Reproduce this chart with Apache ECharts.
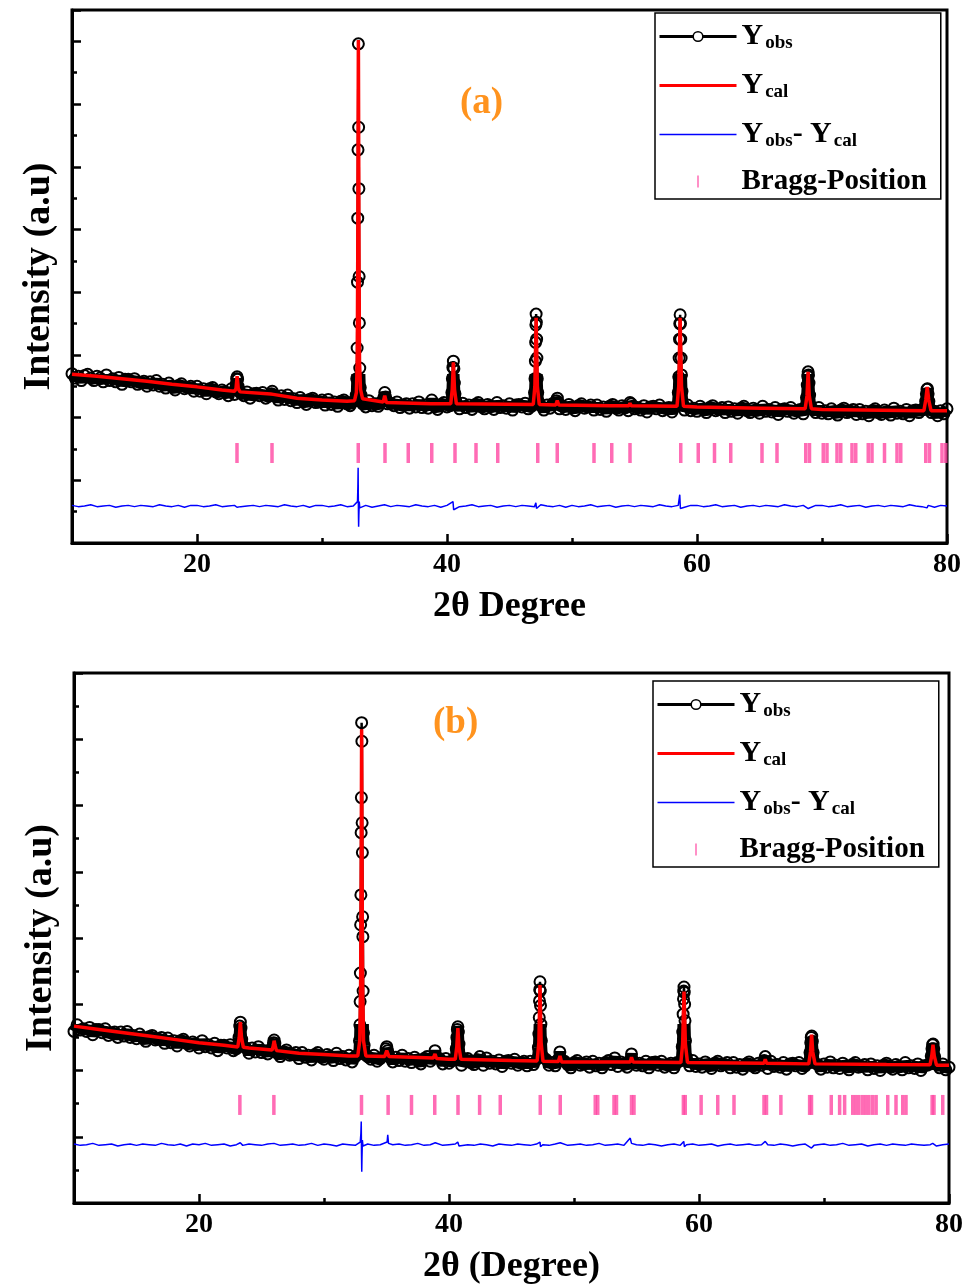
<!DOCTYPE html>
<html>
<head>
<meta charset="utf-8">
<script src="https://cdn.jsdelivr.net/npm/echarts@6/dist/echarts.min.js"></script>
<style>
html, body { margin: 0; padding: 0; background: #fff; }
#chart { width: 976px; height: 1288px; }
</style>
</head>
<body>
<div id="chart"></div>
<script>
// ---- panel (a) ----
var obsA = [[10.00,2.70],[10.25,2.63],[10.50,2.66],[10.75,2.59],[11.00,2.67],[11.25,2.69],[11.50,2.63],[11.75,2.59],[12.00,2.66],[12.25,2.63],[12.50,2.57],[12.75,2.68],[13.00,2.59],[13.25,2.62],[13.50,2.57],[13.75,2.64],[14.00,2.53],[14.25,2.61],[14.50,2.61],[14.75,2.57],[15.00,2.62],[15.25,2.53],[15.50,2.56],[15.75,2.58],[16.00,2.50],[16.25,2.57],[16.50,2.52],[16.75,2.59],[17.00,2.50],[17.25,2.53],[17.50,2.47],[17.75,2.55],[18.00,2.49],[18.25,2.44],[18.50,2.51],[18.75,2.54],[19.00,2.46],[19.25,2.48],[19.50,2.50],[19.75,2.42],
  [20.00,2.50],[20.25,2.42],[20.50,2.46],[20.75,2.38],[21.00,2.46],[21.25,2.48],[21.50,2.41],[21.75,2.38],[22.00,2.44],[22.25,2.41],[22.50,2.35],[22.75,2.46],[23.00,2.37],
  [23.08,2.45],[23.13,2.53],[23.17,2.62],[23.21,2.65],[23.25,2.61],[23.29,2.50],[23.34,2.43],
  [23.50,2.39],[23.75,2.35],[24.00,2.41],[24.25,2.31],[24.50,2.38],[24.75,2.39],[25.00,2.35],[25.25,2.40],[25.50,2.31],[25.75,2.34],
  [25.95,2.38],[26.02,2.42],[26.08,2.37],
  [26.25,2.35],[26.50,2.28],[26.75,2.35],[27.00,2.29],[27.25,2.36],[27.50,2.27],[27.75,2.30],[28.00,2.24],[28.25,2.32],[28.50,2.26],[28.75,2.21],[29.00,2.29],[29.25,2.31],[29.50,2.24],[29.75,2.25],[30.00,2.28],[30.25,2.20],[30.50,2.29],[30.75,2.21],[31.00,2.25],[31.25,2.18],[31.50,2.26],[31.75,2.28],[32.00,2.22],[32.25,2.19],[32.50,2.26],
  [32.68,2.27],[32.74,2.36],[32.78,2.62],[32.81,3.11],[32.84,4.16],[32.86,5.18],[32.88,6.27],[32.91,7.96],[32.93,6.63],[32.95,5.65],[32.97,4.25],[32.99,3.51],[33.02,2.79],[33.06,2.48],[33.12,2.36],[33.18,2.28],
  [33.25,2.22],[33.50,2.17],[33.75,2.27],[34.00,2.19],[34.25,2.22],[34.50,2.18],[34.75,2.25],
  [34.95,2.32],[35.02,2.40],[35.09,2.33],
  [35.25,2.22],[35.50,2.23],[35.75,2.19],[36.00,2.25],[36.25,2.16],[36.50,2.20],[36.75,2.22],[37.00,2.15],[37.25,2.22],[37.50,2.17],[37.75,2.25],[38.00,2.16],[38.25,2.20],[38.50,2.15],
  [38.78,2.28],
  [39.00,2.18],[39.25,2.13],[39.50,2.21],[39.75,2.24],[40.00,2.17],[40.25,2.19],
  [40.33,2.24],[40.39,2.40],[40.43,2.62],[40.47,2.80],[40.51,2.90],[40.55,2.78],[40.59,2.55],[40.64,2.38],[40.70,2.26],
  [40.75,2.22],[41.00,2.14],[41.25,2.23],[41.50,2.16],[41.75,2.20],[42.00,2.13],[42.25,2.21],[42.50,2.24],[42.75,2.17],[43.00,2.14],[43.25,2.21],[43.50,2.18],[43.75,2.13],[44.00,2.24],[44.25,2.16],[44.50,2.19],[44.75,2.15],[45.00,2.22],[45.25,2.12],[45.50,2.20],[45.75,2.21],[46.00,2.17],[46.25,2.23],[46.50,2.14],[46.75,2.18],
  [46.93,2.22],[47.00,2.40],[47.04,2.62],[47.07,2.90],[47.09,3.20],[47.11,3.48],[47.13,3.65],[47.15,3.52],[47.17,3.25],[47.19,2.95],[47.22,2.62],[47.26,2.40],[47.32,2.25],
  [47.50,2.19],[47.75,2.12],[48.00,2.20],[48.25,2.15],[48.50,2.23],
  [48.76,2.27],[48.83,2.31],[48.90,2.24],
  [49.00,2.14],[49.25,2.18],[49.50,2.13],[49.75,2.21],[50.00,2.16],[50.25,2.11],[50.50,2.19],[50.75,2.22],[51.00,2.15],[51.25,2.17],[51.50,2.20],[51.75,2.12],[52.00,2.20],[52.25,2.13],[52.50,2.17],[52.75,2.10],[53.00,2.18],[53.25,2.21],[53.50,2.15],[53.75,2.12],[54.00,2.19],[54.25,2.16],[54.50,2.11],[54.64,2.24],[54.75,2.22],[55.00,2.14],[55.25,2.16],[55.50,2.12],[55.75,2.19],[56.00,2.09],[56.25,2.17],[56.50,2.18],[56.75,2.14],[57.00,2.20],[57.25,2.11],[57.50,2.15],[57.75,2.16],[58.00,2.09],[58.25,2.17],
  [58.43,2.20],[58.50,2.40],[58.54,2.65],[58.57,2.95],[58.60,3.25],[58.62,3.50],[58.65,3.64],[58.68,3.50],[58.70,3.25],[58.73,2.95],[58.76,2.68],[58.80,2.42],[58.87,2.22],
  [59.00,2.12],[59.25,2.20],[59.50,2.11],[59.75,2.15],[60.00,2.10],[60.25,2.18],[60.50,2.13],[60.75,2.08],[61.00,2.16],[61.25,2.19],[61.50,2.11],[61.75,2.13],[62.00,2.16],[62.25,2.08],[62.50,2.17],[62.75,2.10],[63.00,2.14],[63.25,2.07],[63.50,2.15],[63.75,2.18],[64.00,2.11],[64.25,2.08],[64.50,2.15],[64.75,2.12],[65.00,2.07],[65.25,2.18],[65.50,2.10],[65.75,2.13],[66.00,2.09],[66.25,2.16],[66.50,2.05],[66.75,2.13],[67.00,2.14],[67.25,2.10],[67.50,2.16],[67.75,2.07],[68.00,2.11],[68.25,2.13],[68.50,2.06],
  [68.68,2.17],[68.76,2.32],[68.82,2.52],[68.86,2.66],[68.89,2.73],[68.92,2.68],[68.96,2.55],[69.01,2.36],[69.08,2.19],
  [69.25,2.13],[69.50,2.08],[69.75,2.16],[70.00,2.07],[70.25,2.11],[70.50,2.06],[70.75,2.14],[71.00,2.09],[71.25,2.04],[71.50,2.12],[71.75,2.15],[72.00,2.08],[72.25,2.10],[72.50,2.13],[72.75,2.05],[73.00,2.13],[73.25,2.06],[73.50,2.10],[73.75,2.03],[74.00,2.11],[74.25,2.14],[74.50,2.08],[74.75,2.05],[75.00,2.12],[75.25,2.09],[75.50,2.04],[75.75,2.15],[76.00,2.07],[76.25,2.10],[76.50,2.06],[76.75,2.13],[77.00,2.03],[77.25,2.11],[77.50,2.12],[77.75,2.08],[78.00,2.13],
  [78.20,2.13],[78.29,2.26],[78.35,2.38],[78.40,2.45],[78.44,2.46],[78.49,2.38],[78.55,2.26],[78.64,2.13],
  [78.75,2.08],[79.00,2.10],[79.25,2.03],[79.50,2.11],[79.75,2.06],[80.00,2.14]];

var calA = [[10,2.69],[12,2.66],[14,2.62],[16,2.58],[18,2.53],[20,2.49],[22,2.44],[23.0,2.42],[23.12,2.46],[23.21,2.66],[23.30,2.46],[23.45,2.41],
  [25.9,2.375],[26.01,2.40],[26.1,2.37],[28,2.31],[30,2.28],[32,2.26],[32.6,2.27],[32.75,2.40],[32.82,2.90],[32.86,4.60],[32.91,8.02],[32.96,4.60],[33.0,2.90],[33.08,2.45],[33.25,2.30],
  [34.9,2.25],[35.02,2.35],[35.15,2.24],[38.7,2.22],[38.78,2.25],[38.86,2.22],[40.3,2.22],[40.42,2.45],[40.51,2.88],[40.60,2.45],[40.75,2.22],
  [46.9,2.21],[47.03,2.50],[47.13,3.59],[47.23,2.50],[47.38,2.21],[48.7,2.20],[48.82,2.27],[48.95,2.20],[53.1,2.19],[53.18,2.21],[53.26,2.19],[54.55,2.19],[54.64,2.23],[54.73,2.19],
  [58.4,2.18],[58.54,2.50],[58.65,3.59],[58.76,2.50],[58.92,2.18],[60,2.17],[65.1,2.15],[65.2,2.17],[65.3,2.15],
  [68.65,2.14],[68.80,2.35],[68.89,2.73],[68.98,2.35],[69.15,2.14],[70,2.13],[78.15,2.11],[78.30,2.28],[78.42,2.49],[78.54,2.28],[78.72,2.11],[80,2.11]];

var diffA = [[10.0,0.60],[10.5,0.58],[11.0,0.59],[11.5,0.61],[12.0,0.58],[12.5,0.59],[13.0,0.60],[13.5,0.57],[14.0,0.59],[14.5,0.60],[15.0,0.58],[15.5,0.60],[16.0,0.59],[16.5,0.58],[17.0,0.61],[17.5,0.59],[18.0,0.58],[18.5,0.60],[19.0,0.57],[19.5,0.60],
  [20.0,0.60],[20.5,0.58],[21.0,0.59],[21.5,0.61],[22.0,0.58],[22.5,0.59],[23.0,0.60],[23.2,0.57],[23.5,0.58],[24.0,0.59],[24.5,0.60],[25.0,0.58],[25.5,0.60],[26.0,0.59],[26.5,0.58],[27.0,0.61],[27.5,0.59],[28.0,0.58],[28.5,0.60],[29.0,0.57],[29.5,0.60],
  [30.0,0.60],[30.5,0.58],[31.0,0.59],[31.5,0.61],[32.0,0.58],[32.5,0.59],[32.84,0.66],[32.87,0.90],[32.89,1.20],[32.90,0.85],[32.92,0.40],[32.93,0.26],[32.95,0.45],[32.98,0.66],[33.02,0.56],
  [33.5,0.60],[34.0,0.57],[34.5,0.59],[35.0,0.61],[35.5,0.58],[36.0,0.60],[36.5,0.59],[37.0,0.58],[37.5,0.61],[38.0,0.59],[38.5,0.58],[39.0,0.60],[39.5,0.57],[40.0,0.60],[40.48,0.66],[40.53,0.53],
  [41.0,0.58],[41.5,0.59],[42.0,0.61],[42.5,0.58],[43.0,0.59],[43.5,0.60],[44.0,0.57],[44.5,0.59],[45.0,0.60],[45.5,0.58],[46.0,0.60],[46.5,0.59],[47.0,0.58],[47.11,0.64],[47.16,0.55],
  [47.5,0.61],[48.0,0.59],[48.5,0.58],[49.0,0.60],[49.5,0.57],[50.0,0.60],[50.5,0.58],[51.0,0.59],[51.5,0.61],[52.0,0.58],[52.5,0.59],[53.0,0.60],[53.5,0.57],[54.0,0.59],[54.5,0.60],[55.0,0.58],[55.5,0.60],[56.0,0.59],[56.5,0.58],[57.0,0.61],[57.5,0.59],[58.0,0.58],[58.5,0.60],[58.62,0.77],[58.67,0.55],
  [59.0,0.57],[59.5,0.60],[60.0,0.60],[60.5,0.58],[61.0,0.59],[61.5,0.61],[62.0,0.58],[62.5,0.59],[63.0,0.60],[63.5,0.57],[64.0,0.59],[64.5,0.60],[65.0,0.58],[65.5,0.60],[66.0,0.59],[66.5,0.58],[67.0,0.61],[67.5,0.59],[68.0,0.58],[68.5,0.60],[68.9,0.55],
  [69.5,0.60],[70.0,0.60],[70.5,0.58],[71.0,0.59],[71.5,0.61],[72.0,0.58],[72.5,0.59],[73.0,0.60],[73.5,0.57],[74.0,0.59],[74.5,0.60],[75.0,0.58],[75.5,0.60],[76.0,0.59],[76.5,0.58],[77.0,0.61],[77.5,0.59],[78.0,0.58],[78.4,0.56],[78.5,0.60],[79.0,0.57],[79.5,0.60],[80.0,0.59]];

var braggA = [23.2, 26.0, 32.9, 35.04, 36.9, 38.78, 40.64, 42.32, 44.06, 47.26, 48.82, 51.76, 53.18, 54.64, 58.7, 60.1, 61.4, 62.7, 65.2, 66.4,
  68.7, 69.0, 70.1, 70.4, 71.2, 71.5, 72.4, 72.7, 73.7, 74.0, 75.0, 76.0, 76.3, 78.3, 78.6, 79.6, 79.9];

// ---- panel (b) ----
var obsB = [[10.00,2.59],[10.25,2.69],[10.50,2.61],[10.75,2.63],[11.00,2.59],[11.25,2.65],[11.50,2.54],[11.75,2.62],[12.00,2.62],[12.25,2.57],[12.50,2.63],[12.75,2.53],[13.00,2.57],[13.25,2.58],[13.50,2.50],[13.75,2.58],[14.00,2.52],[14.25,2.59],[14.50,2.50],[14.75,2.53],[15.00,2.48],[15.25,2.55],[15.50,2.49],[15.75,2.44],[16.00,2.51],[16.25,2.53],[16.50,2.46],[16.75,2.47],[17.00,2.50],[17.25,2.41],[17.50,2.49],[17.75,2.42],[18.00,2.45],[18.25,2.37],[18.50,2.45],[18.75,2.47],[19.00,2.41],[19.25,2.37],[19.50,2.43],[19.75,2.40],
  [20.00,2.34],[20.25,2.45],[20.50,2.36],[20.75,2.39],[21.00,2.34],[21.25,2.41],[21.50,2.30],[21.75,2.38],[22.00,2.38],[22.25,2.34],[22.50,2.39],[22.75,2.30],[23.00,2.33],
  [23.12,2.38],[23.20,2.50],[23.26,2.67],[23.31,2.73],[23.36,2.64],[23.42,2.47],[23.50,2.37],
  [23.75,2.34],[24.00,2.26],[24.25,2.34],[24.50,2.28],[24.75,2.36],[25.00,2.27],[25.25,2.30],[25.50,2.25],[25.75,2.32],
  [25.90,2.33],[25.96,2.42],[26.01,2.46],[26.07,2.41],[26.14,2.32],
  [26.25,2.26],[26.50,2.21],[26.75,2.28],[27.00,2.31],[27.25,2.23],[27.50,2.24],[27.75,2.27],[28.00,2.18],[28.25,2.27],[28.50,2.20],[28.75,2.23],[29.00,2.16],[29.25,2.24],[29.50,2.27],[29.75,2.20],[30.00,2.17],[30.25,2.24],[30.50,2.21],[30.75,2.15],[31.00,2.26],[31.25,2.18],[31.50,2.21],[31.75,2.16],[32.00,2.23],[32.25,2.13],[32.50,2.21],
  [32.78,2.25],[32.84,2.45],[32.87,2.69],[32.89,3.04],[32.91,3.47],[32.93,4.20],[32.95,4.65],[32.97,5.59],[32.99,6.12],[33.01,7.25],[33.03,6.97],[33.05,5.74],[33.07,5.29],[33.09,4.32],[33.11,4.02],[33.13,3.20],[33.16,2.57],[33.21,2.38],[33.30,2.24],
  [33.50,2.21],[33.75,2.17],[34.00,2.23],[34.25,2.14],[34.50,2.18],
  [34.88,2.24],[34.96,2.33],[35.02,2.36],[35.09,2.30],[35.17,2.22],
  [35.25,2.20],[35.50,2.13],[35.75,2.20],[36.00,2.15],[36.25,2.23],[36.50,2.14],[36.75,2.18],[37.00,2.12],[37.25,2.20],[37.50,2.15],[37.75,2.10],[38.00,2.18],[38.25,2.21],[38.50,2.14],
  [38.80,2.20],[38.88,2.30],[38.96,2.21],
  [39.25,2.18],[39.50,2.10],[39.75,2.18],[40.00,2.11],[40.25,2.15],
  [40.50,2.18],[40.58,2.33],[40.63,2.50],[40.67,2.62],[40.71,2.66],[40.75,2.58],[40.80,2.40],[40.88,2.22],
  [41.00,2.08],[41.25,2.16],[41.50,2.18],[41.75,2.12],[42.00,2.09],[42.25,2.16],[42.47,2.21],[42.75,2.08],[43.00,2.19],[43.25,2.11],[43.50,2.14],[43.75,2.10],[44.00,2.16],[44.25,2.06],[44.50,2.14],[44.75,2.15],[45.00,2.11],[45.25,2.17],[45.50,2.08],[45.75,2.12],[46.00,2.14],[46.25,2.07],[46.50,2.14],[46.75,2.09],
  [47.08,2.18],[47.15,2.35],[47.19,2.55],[47.22,2.80],[47.24,3.05],[47.26,3.22],[47.28,3.34],[47.30,3.20],[47.32,2.98],[47.35,2.70],[47.39,2.45],[47.46,2.22],
  [47.75,2.17],[48.00,2.08],[48.25,2.12],[48.50,2.07],
  [48.78,2.18],[48.87,2.28],[48.96,2.17],
  [49.25,2.14],[49.50,2.09],[49.75,2.04],[50.00,2.12],[50.25,2.15],[50.50,2.08],[50.75,2.10],[51.00,2.13],[51.25,2.05],[51.50,2.14],[51.75,2.07],[52.00,2.11],[52.25,2.04],[52.50,2.12],[52.75,2.15],[53.00,2.09],[53.26,2.19],[53.50,2.06],[53.75,2.13],[54.00,2.10],[54.25,2.05],
  [54.50,2.16],[54.60,2.25],[54.70,2.15],
  [55.00,2.08],[55.25,2.11],[55.50,2.07],[55.75,2.14],[56.00,2.04],[56.25,2.12],[56.50,2.13],[56.75,2.08],[57.00,2.14],[57.25,2.05],[57.50,2.09],[57.75,2.11],[58.00,2.04],[58.25,2.12],
  [58.58,2.15],[58.66,2.36],[58.70,2.58],[58.73,2.85],[58.76,3.08],[58.78,3.20],[58.80,3.26],[58.82,3.18],[58.85,3.00],[58.88,2.75],[58.92,2.45],[58.99,2.20],
  [59.25,2.07],[59.50,2.15],[59.75,2.06],[60.00,2.10],[60.25,2.05],[60.50,2.13],[60.75,2.08],[61.00,2.03],[61.25,2.11],[61.50,2.14],[61.75,2.07],[62.00,2.09],[62.25,2.12],[62.50,2.04],[62.75,2.12],[63.00,2.05],[63.25,2.09],[63.50,2.02],[63.75,2.10],[64.00,2.13],[64.25,2.07],[64.50,2.04],[64.75,2.11],[65.00,2.08],
  [65.22,2.15],[65.30,2.21],[65.38,2.13],
  [65.50,2.03],[65.75,2.14],[66.00,2.06],[66.25,2.09],[66.50,2.05],[66.75,2.12],[67.00,2.02],[67.25,2.10],[67.50,2.11],[67.75,2.07],[68.00,2.12],[68.25,2.03],[68.50,2.07],
  [68.80,2.12],[68.88,2.27],[68.94,2.42],[68.98,2.50],[69.02,2.52],[69.07,2.44],[69.13,2.27],[69.21,2.12],
  [69.50,2.09],[69.75,2.02],[70.00,2.10],[70.25,2.05],[70.50,2.13],[70.75,2.04],[71.00,2.08],[71.25,2.03],[71.50,2.11],[71.75,2.06],[72.00,2.01],[72.25,2.09],[72.50,2.12],[72.75,2.05],[73.00,2.06],[73.25,2.09],[73.50,2.01],[73.75,2.10],[74.00,2.03],[74.25,2.07],[74.50,2.00],[74.75,2.08],[75.00,2.11],[75.25,2.05],[75.50,2.02],[75.75,2.09],[76.00,2.06],[76.25,2.01],[76.50,2.12],[76.75,2.04],[77.00,2.07],[77.25,2.03],[77.50,2.10],[77.75,2.00],[78.00,2.07],[78.25,2.08],
  [78.50,2.10],[78.58,2.22],[78.64,2.33],[78.69,2.39],[78.73,2.40],[78.78,2.33],[78.85,2.21],[78.94,2.10],
  [79.25,2.04],[79.50,2.10],[79.75,2.01],[80.00,2.05]];

var calB = [[10,2.67],[12,2.62],[14,2.57],[16,2.52],[18,2.47],[20,2.42],[22,2.38],[23.1,2.355],[23.22,2.50],[23.31,2.73],[23.40,2.50],[23.55,2.35],[24,2.34],
  [25.85,2.31],[25.95,2.38],[26.01,2.45],[26.08,2.38],[26.2,2.30],[28,2.26],[30,2.24],[32,2.22],[32.7,2.22],[32.86,2.45],[32.93,3.30],[32.97,4.80],[33.01,7.15],[33.05,4.80],[33.09,3.30],[33.16,2.45],[33.35,2.22],
  [34.85,2.21],[35.02,2.30],[35.2,2.21],[38.75,2.19],[38.88,2.25],[39.0,2.18],[40,2.17],[40.5,2.17],[40.62,2.35],[40.71,2.64],[40.80,2.35],[40.95,2.17],[45,2.15],
  [47.05,2.145],[47.19,2.42],[47.28,3.29],[47.37,2.42],[47.52,2.14],[48.75,2.135],[48.88,2.22],[49.0,2.13],[50,2.13],[54.5,2.13],[54.6,2.20],[54.72,2.13],
  [58.55,2.12],[58.69,2.40],[58.80,3.19],[58.91,2.40],[59.08,2.12],[65.2,2.11],[65.3,2.17],[65.4,2.11],
  [68.78,2.10],[68.92,2.28],[69.01,2.54],[69.10,2.28],[69.28,2.10],[75,2.09],[78.48,2.085],[78.62,2.22],[78.72,2.39],[78.82,2.22],[79.0,2.08],[80,2.08]];

var diffB = [[10.0,0.89],[10.5,0.87],[11.0,0.88],[11.5,0.90],[12.0,0.87],[12.5,0.88],[13.0,0.89],[13.5,0.86],[14.0,0.88],[14.5,0.89],[15.0,0.87],[15.5,0.89],[16.0,0.88],[16.5,0.87],[17.0,0.90],[17.5,0.88],[18.0,0.87],[18.5,0.89],[19.0,0.86],[19.5,0.89],
  [20.0,0.88],[20.5,0.90],[21.0,0.87],[21.5,0.88],[22.0,0.89],[22.5,0.86],[23.0,0.88],[23.3,0.91],[23.5,0.87],[24.0,0.89],[24.5,0.88],[25.0,0.87],[25.5,0.89],[26.0,0.90],[26.5,0.87],[27.0,0.88],[27.5,0.89],[28.0,0.87],[28.5,0.88],[29.0,0.90],[29.5,0.87],
  [30.0,0.89],[30.5,0.88],[31.0,0.86],[31.5,0.89],[32.0,0.88],[32.5,0.87],[32.90,0.92],[32.95,1.05],[32.98,1.23],[33.00,0.75],[33.02,0.47],[33.04,0.70],[33.07,0.95],[33.12,0.86],
  [33.5,0.89],[34.0,0.87],[34.5,0.88],[35.05,0.92],[35.10,1.03],[35.16,0.90],[35.5,0.88],[36.0,0.89],[36.5,0.87],[37.0,0.88],[37.5,0.90],[38.0,0.87],[38.5,0.88],[38.9,0.91],[39.5,0.87],[40.0,0.88],[40.5,0.89],[40.7,0.92],[40.8,0.86],
  [41.5,0.88],[42.0,0.87],[42.5,0.89],[43.0,0.88],[43.5,0.86],[44.0,0.89],[44.5,0.88],[45.0,0.87],[45.5,0.89],[46.0,0.88],[46.5,0.87],[47.0,0.89],[47.28,0.92],[47.32,0.85],[47.5,0.88],[48.0,0.87],[48.5,0.89],[48.9,0.91],[49.5,0.87],
  [50.0,0.88],[50.5,0.89],[51.0,0.87],[51.5,0.88],[52.0,0.90],[52.5,0.87],[53.0,0.88],[53.5,0.89],[54.0,0.87],[54.5,0.98],[54.6,0.90],[55.0,0.88],[55.5,0.87],[56.0,0.89],[56.5,0.88],[57.0,0.86],[57.5,0.88],[58.0,0.89],[58.5,0.87],[58.78,0.93],[58.83,0.85],
  [59.0,0.88],[59.5,0.89],[60.0,0.87],[60.5,0.88],[61.0,0.89],[61.5,0.86],[62.0,0.88],[62.5,0.89],[63.0,0.87],[63.5,0.88],[64.0,0.89],[64.5,0.87],[65.0,0.88],[65.3,0.93],[65.5,0.88],[66.0,0.87],[66.5,0.89],[67.0,0.88],[67.5,0.86],[68.0,0.88],[68.5,0.89],[69.0,0.83],[69.2,0.87],
  [69.5,0.88],[70.0,0.89],[70.5,0.87],[71.0,0.88],[71.5,0.90],[72.0,0.87],[72.5,0.88],[73.0,0.89],[73.5,0.86],[74.0,0.88],[74.5,0.89],[75.0,0.87],[75.5,0.89],[76.0,0.88],[76.5,0.87],[77.0,0.89],[77.5,0.88],[78.0,0.87],[78.5,0.88],[78.7,0.90],[79.0,0.86],[79.5,0.88],[80.0,0.89]];

var braggB = [23.27, 25.99, 33.0, 35.13, 37.0, 38.86, 40.72, 42.45, 44.1, 47.3, 48.9, 51.7, 51.9, 53.2, 53.4, 54.6, 54.8, 58.75, 58.9, 60.17, 61.5, 62.8, 65.2, 65.4, 66.55,
  68.85, 69.0, 70.58, 71.25, 71.65, 72.3, 72.55, 72.8, 73.1, 73.35, 73.6, 73.9, 74.17, 75.1, 75.76, 76.3, 76.56, 78.65, 78.8, 79.5];

var xMajor = [20, 40, 60, 80];
var xMinor = [30, 50, 70];

var FONT = '"Liberation Serif", "Times New Roman", serif';
var PINK = '#ff47a3';
var ORANGE = '#ff931e';
var BAND_CUT = 2.76;   // intensity above which the thick scan stroke fades out

var chart = echarts.init(document.getElementById('chart'));

// stroke gradient for the dense scan: black below BAND_CUT, clear above it
function bandColor(obs) {
  var ys = obs.map(function (p) { return p[1]; });
  var hi = Math.max.apply(null, ys), lo = Math.min.apply(null, ys);
  var off = (hi - BAND_CUT) / (hi - lo);
  return new echarts.graphic.LinearGradient(0, 0, 0, 1, [
    { offset: 0, color: 'rgba(0,0,0,0)' }, { offset: off, color: 'rgba(0,0,0,0)' },
    { offset: off, color: '#000' }, { offset: 1, color: '#000' }
  ]);
}

function xAxes(g, title) {
  return [{
    gridIndex: g, type: 'value', position: 'bottom', min: 10, max: 80, interval: 10,
    axisLine: { show: true, lineStyle: { color: '#000', width: 3 } },
    axisTick: { inside: true, length: 9, customValues: xMajor, lineStyle: { color: '#000', width: 2.5 } },
    axisLabel: { customValues: xMajor, margin: 8, color: '#000', fontFamily: FONT, fontWeight: 'bold', fontSize: 28 },
    splitLine: { show: false },
    name: title, nameLocation: 'middle', nameGap: 46,
    nameTextStyle: { color: '#000', fontFamily: FONT, fontWeight: 'bold', fontSize: 36 }
  }, {
    gridIndex: g, type: 'value', position: 'bottom', min: 10, max: 80, interval: 10,
    axisLine: { show: false },
    axisTick: { inside: true, length: 5, customValues: xMinor, lineStyle: { color: '#000', width: 2.5 } },
    axisLabel: { show: false },
    splitLine: { show: false }
  }];
}

function yAxis(g, max) {
  return {
    gridIndex: g, type: 'value', min: 0, max: max, interval: 1,
    axisLine: { show: true, lineStyle: { color: '#000', width: 3 } },
    axisTick: { inside: true, length: 9, lineStyle: { color: '#000', width: 2.5 } },
    minorTick: { show: true, splitNumber: 2, length: 5, lineStyle: { color: '#000', width: 2.5 } },
    axisLabel: { show: false },
    splitLine: { show: false },
    name: 'Intensity (a.u)', nameLocation: 'middle', nameGap: 14,
    nameTextStyle: { color: '#000', fontFamily: FONT, fontWeight: 'bold', fontSize: 38 }
  };
}

function panelSeries(tag, xi, yi, obs, cal, diff, bragg, braggLevel) {
  return [{
    name: 'band_' + tag, type: 'line', xAxisIndex: xi, yAxisIndex: yi, data: obs,
    symbol: 'none', itemStyle: { color: '#000' },
    lineStyle: { color: bandColor(obs), width: 11 }, z: 1
  }, {
    name: 'Yobs_' + tag, type: 'line', xAxisIndex: xi, yAxisIndex: yi, data: obs,
    symbol: 'circle', symbolSize: 11, showAllSymbol: true,
    itemStyle: { color: 'rgba(255,255,255,0)', borderColor: '#000', borderWidth: 2 },
    lineStyle: { color: '#000', width: 2.5 }, z: 2
  }, {
    name: 'Ycal_' + tag, type: 'line', xAxisIndex: xi, yAxisIndex: yi, data: cal,
    symbol: 'none', itemStyle: { color: '#ff0000' },
    lineStyle: { color: '#ff0000', width: 3.5 }, z: 3
  }, {
    name: 'Ydiff_' + tag, type: 'line', xAxisIndex: xi, yAxisIndex: yi, data: diff,
    symbol: 'none', itemStyle: { color: '#0000ff' },
    lineStyle: { color: '#0000ff', width: 1.5 }, z: 3
  }, {
    name: 'Bragg_' + tag, type: 'scatter', xAxisIndex: xi, yAxisIndex: yi,
    data: bragg.map(function (p) { return [p, braggLevel]; }),
    symbol: 'rect', symbolSize: [3.5, 20], itemStyle: { color: PINK }, z: 4
  }];
}

var legendLabels = {
  Yobs: '{Y|Y}{s|obs}',
  Ycal: '{Y|Y}{s|cal}',
  Ydiff: '{Y|Y}{s|obs}{Y|- Y}{s|cal}',
  Bragg: '{b|Bragg-Position}'
};
var rich = {
  Y: { fontFamily: FONT, fontWeight: 'bold', fontSize: 30, color: '#000', lineHeight: 34 },
  s: { fontFamily: FONT, fontWeight: 'bold', fontSize: 19, color: '#000', lineHeight: 34, padding: [14, 0, 0, 2] },
  b: { fontFamily: FONT, fontWeight: 'bold', fontSize: 29, color: '#000', lineHeight: 44 }
};

function legend(tag, left, top) {
  return {
    left: left, top: top, orient: 'vertical',
    padding: [7, 14, 3, 3], itemGap: 16, itemWidth: 77, itemHeight: 12,
    borderColor: '#000', borderWidth: 1.5, backgroundColor: '#fff',
    data: [
      { name: 'Yobs_' + tag, itemStyle: { color: '#fff', borderColor: '#000', borderWidth: 1.5 }, lineStyle: { color: '#000', width: 3 } },
      { name: 'Ycal_' + tag, icon: 'path://M0,0H26V1H0Z' },
      { name: 'Ydiff_' + tag, icon: 'path://M0,0H52V1H0Z' },
      { name: 'Bragg_' + tag, icon: 'path://M0,0H1V8H0Z' }
    ],
    formatter: function (name) { return legendLabels[name.split('_')[0]]; },
    textStyle: { rich: rich }
  };
}

var option = {
  animation: false,
  backgroundColor: '#fff',
  title: [
    { text: '(a)', left: 455, top: 80, textStyle: { color: ORANGE, fontFamily: FONT, fontWeight: 'bold', fontSize: 37 } },
    { text: '(b)', left: 428, top: 700, textStyle: { color: ORANGE, fontFamily: FONT, fontWeight: 'bold', fontSize: 37 } }
  ],
  grid: [
    { left: 72, top: 10, width: 875, height: 533, show: true, borderColor: '#000', borderWidth: 3 },
    { left: 74, top: 673, width: 875, height: 530, show: true, borderColor: '#000', borderWidth: 3 }
  ],
  xAxis: xAxes(0, '2θ Degree').concat(xAxes(1, '2θ (Degree)')),
  yAxis: [yAxis(0, 8.5), yAxis(1, 8)],
  legend: [legend('a', 655, 13), legend('b', 653, 681)],
  series: panelSeries('a', 0, 0, obsA, calA, diffA, braggA, 1.435)
    .concat(panelSeries('b', 2, 1, obsB, calB, diffB, braggB, 1.48))
};

chart.setOption(option);
</script>
</body>
</html>
